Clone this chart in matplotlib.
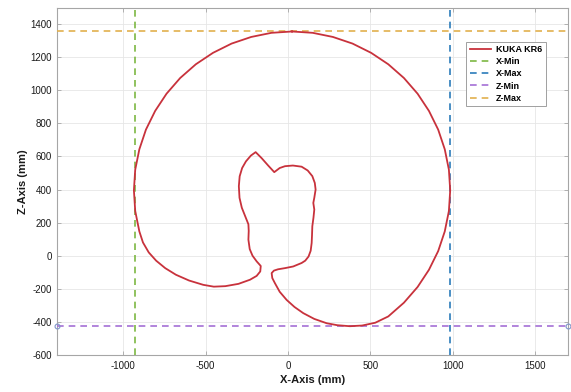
import matplotlib
matplotlib.use("Agg")
import matplotlib.pyplot as plt

plt.rcParams['font.family'] = ['Liberation Sans', 'DejaVu Sans']
plt.rcParams['axes.unicode_minus'] = False

# workspace envelope of the KUKA KR6 in the X-Z plane (mm), traced clockwise from the top
env_x = [25, 150, 273, 392, 505, 609, 704, 787, 856, 912, 952, 977, 985, 977, 952, 912,
         856, 787, 704, 609, 530, 450, 376, 300, 235, 160, 93, 40, -8, -50, -79, -95,
         -99, -85, -60, -18, 32, 83, 105, 125, 138, 144, 146, 148, 155, 160, 154, 160,
         168, 163, 148, 120, 83, 30, -18, -50, -83, -120, -160, -196, -225, -255, -278,
         -293, -298, -294, -280, -258, -240, -238, -240, -232, -215, -190, -165, -168,
         -190, -230, -300, -380, -450, -514, -600, -680, -745, -800, -845, -880, -902,
         -927, -935, -927, -902, -862, -806, -737, -654, -559, -455, -342, -223, -100, 25]
env_z = [1355, 1347, 1322, 1282, 1226, 1157, 1074, 979, 875, 762, 643, 520, 395, 270, 147, 28,
         -85, -189, -284, -367, -405, -422, -426, -420, -408, -382, -347, -310, -267, -218,
         -166, -135, -105, -90, -82, -75, -65, -44, -30, -5, 30, 77, 120, 178, 230, 279, 319,
         350, 400, 440, 481, 515, 538, 545, 541, 530, 505, 545, 590, 626, 605, 570, 530,
         480, 420, 350, 290, 235, 190, 150, 97, 40, 0, -34, -62, -95, -122, -145, -170,
         -184, -187, -176, -150, -115, -75, -30, 20, 80, 147, 270, 395, 520, 643, 762, 875,
         979, 1074, 1157, 1226, 1282, 1322, 1347, 1355]

# reach limits
x_min, x_max = -930, 982
z_min, z_max = -425, 1355

x_ticks = [-1000, -500, 0, 500, 1000, 1500]
z_ticks = [-600, -400, -200, 0, 200, 400, 600, 800, 1000, 1200, 1400]

fig = plt.figure(figsize=(5.71, 3.92), dpi=100)
ax = fig.add_axes([57.3 / 571, 1 - 355 / 392, (568 - 57.3) / 571, (355 - 7.5) / 392])

dash = (0, (4, 3))
ax.plot(env_x, env_z, color='#c8323c', lw=1.3, label='KUKA KR6', zorder=4)
ax.axvline(x_min, color='#7db843', lw=1.2, ls=dash, label='X-Min', zorder=3)
ax.axvline(x_max, color='#2b7bba', lw=1.2, ls=dash, label='X-Max', zorder=3)
ax.axhline(z_min, color='#a46fd6', lw=1.2, ls=dash, label='Z-Min', zorder=3)
ax.axhline(z_max, color='#e2b04e', lw=1.2, ls=dash, label='Z-Max', zorder=3)
ax.plot([-1400, 1700], [z_min, z_min], 'o', ms=3.5, mfc='none', mec='#7f95c9',
        mew=0.8, clip_on=False, zorder=5)

ax.set_xlim(-1400, 1700)
ax.set_ylim(-600, 1500)
ax.set_xticks(x_ticks)
ax.set_yticks(z_ticks)
ax.grid(True, color='#e6e6e6', lw=0.6)
ax.set_axisbelow(True)

for s in ax.spines.values():
    s.set_color('#a6a6a6')
    s.set_linewidth(0.8)
ax.tick_params(direction='in', length=3, width=0.6, color='#a6a6a6',
               top=True, right=True, labelsize=7, labelcolor='#1a1a1a', pad=4)

ax.set_xlabel('X-Axis (mm)', fontsize=8, fontweight='bold', color='#1a1a1a', labelpad=3)
ax.set_ylabel('Z-Axis (mm)', fontsize=8, fontweight='bold', color='#1a1a1a', labelpad=1.5)

leg = ax.legend(loc='upper right', bbox_to_anchor=(0.965, 0.915),
                prop={'weight': 'bold', 'size': 6.5}, frameon=True, fancybox=False,
                framealpha=1, edgecolor='#a0a0a0', handlelength=2.4, borderpad=0.4,
                labelspacing=0.35, handletextpad=0.5)
leg.get_frame().set_linewidth(0.7)

fig.savefig('out.png', dpi=100)
